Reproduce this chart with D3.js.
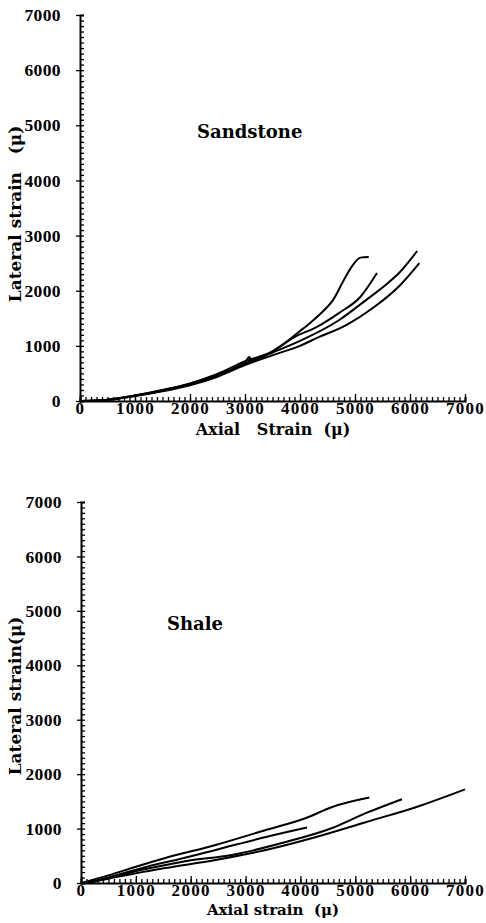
<!DOCTYPE html>
<html>
<head>
<meta charset="utf-8">
<script src="https://cdn.jsdelivr.net/npm/d3@7"></script>
<style>
  body { margin: 0; background: #fff; }
  svg { display: block; }
  text { font-family: "DejaVu Serif", serif; font-weight: bold; fill: #000; }
  .axis path, .axis line { stroke: #000; }
</style>
</head>
<body>
<div id="chart"></div>
<script>
// values (micro-strain)
const majorTicks = [0, 1000, 2000, 3000, 4000, 5000, 6000, 7000];

// sandstone: [axial, lateral]
const sand1 = [[0,0],[500,25],[1000,100],[1500,200],[2000,320],[2500,490],[3000,720],[3500,900],[4000,1270],[4200,1430],[4400,1610],[4600,1830],[4800,2200],[4950,2450],[5100,2600],[5250,2610]];
const sand2 = [[0,0],[500,25],[1000,100],[1500,195],[2000,315],[2500,480],[3000,700],[3080,800],[3120,730],[3500,900],[3900,1160],[4300,1340],[4700,1590],[5100,1890],[5400,2320]];
const sand3 = [[0,0],[500,20],[1000,95],[1500,185],[2000,300],[2500,460],[3000,680],[3500,880],[4000,1090],[4700,1460],[5200,1830],[5600,2140],[5800,2320],[6130,2720]];
const sand4 = [[0,0],[500,20],[1000,90],[1500,175],[2000,285],[2500,440],[3000,650],[3500,830],[4000,1000],[4300,1140],[4850,1380],[5330,1690],[5820,2100],[6170,2500]];

// shale
const shale1 = [[100,0],[500,80],[1000,180],[1538,276],[2454,423],[3370,607],[4286,846],[5201,1121],[6117,1397],[7000,1720]];
const shale2 = [[100,0],[600,120],[1200,260],[1900,400],[2747,515],[3663,735],[4579,1011],[5201,1287],[5850,1540]];
const shale3 = [[0,0],[500,140],[1000,300],[1538,460],[2454,699],[3370,974],[4103,1195],[4579,1397],[5256,1570]];
const shale4 = [[150,0],[600,130],[1200,300],[1800,440],[2454,607],[3370,846],[4121,1020]];

const panels = [
  { name: 'Sandstone', series: [sand1, sand2, sand3, sand4],
    xr: [80, 465], yr: [401, 15],
    xTitle: 'Axial   Strain  (\u03bc)', yTitle: 'Lateral strain   (\u03bc)',
    nameX: 197, nameY: 138, xTitleY: 435, xTitleSize: 16, yTitleY: 214 },
  { name: 'Shale', series: [shale1, shale2, shale3, shale4],
    xr: [81, 465], yr: [883, 502],
    xTitle: 'Axial strain  (\u03bc)', yTitle: 'Lateral strain(\u03bc)',
    nameX: 167, nameY: 630, xTitleY: 915, xTitleSize: 15, yTitleY: 696 }
];

const width = 486, height = 923;
const minorTicks = d3.range(0, 7001, 100);
const tickFont = '"Liberation Serif", "Times New Roman", serif';

const svg = d3.select('#chart')
  .append('svg')
  .attr('width', width)
  .attr('height', height);

const drawPanel = p => {
  const x = d3.scaleLinear().domain([0, 7000]).range(p.xr);
  const y = d3.scaleLinear().domain([0, 7000]).range(p.yr);
  const g = svg.append('g');

  // minor ticks pointing inwards
  g.append('g')
    .attr('class', 'axis')
    .attr('transform', `translate(0,${p.yr[0]})`)
    .call(d3.axisBottom(x).tickValues(minorTicks).tickSize(-4).tickFormat(''))
    .call(g => g.select('.domain').attr('stroke-width', 2));
  g.append('g')
    .attr('class', 'axis')
    .attr('transform', `translate(${p.xr[0]},0)`)
    .call(d3.axisLeft(y).tickValues(minorTicks).tickSize(-4).tickFormat(''))
    .call(g => g.select('.domain').attr('stroke-width', 2));

  // major ticks + labels
  g.append('g')
    .attr('class', 'axis')
    .attr('transform', `translate(0,${p.yr[0]})`)
    .call(d3.axisBottom(x).tickValues(majorTicks).tickSizeInner(-7).tickSizeOuter(0).tickFormat(d3.format('d')))
    .call(g => g.select('.domain').remove())
    .call(g => g.selectAll('text').attr('y', 1).style('font-size', '17px').style('letter-spacing', '1.3px'));
  g.append('g')
    .attr('class', 'axis')
    .attr('transform', `translate(${p.xr[0]},0)`)
    .call(d3.axisLeft(y).tickValues(majorTicks).tickSizeInner(4).tickSizeOuter(0).tickPadding(15).tickFormat(d3.format('d')))
    .call(g => g.select('.domain').remove())
    .call(g => g.selectAll('text').style('font-size', '17.5px').style('letter-spacing', '0.4px'));
  g.selectAll('.axis line').attr('stroke-width', 1.3);
  g.selectAll('.axis text').style('font-family', tickFont).style('font-weight', 'bold');

  // curves
  const line = d3.line()
    .x(d => x(d[0]))
    .y(d => y(d[1]))
    .curve(d3.curveMonotoneX);
  p.series.forEach(s => {
    g.append('path')
      .datum(s)
      .attr('fill', 'none')
      .attr('stroke', '#000')
      .attr('stroke-width', 2)
      .attr('d', line);
  });

  // titles
  g.append('text')
    .attr('x', 273)
    .attr('y', p.xTitleY)
    .attr('text-anchor', 'middle')
    .attr('font-size', p.xTitleSize)
    .style('white-space', 'pre')
    .text(p.xTitle);
  g.append('text')
    .attr('transform', `translate(21,${p.yTitleY}) rotate(-90)`)
    .attr('text-anchor', 'middle')
    .attr('font-size', 17)
    .style('white-space', 'pre')
    .text(p.yTitle);
  g.append('text')
    .attr('x', p.nameX)
    .attr('y', p.nameY)
    .attr('font-size', 18)
    .text(p.name);
};

panels.forEach(drawPanel);
</script>
</body>
</html>
